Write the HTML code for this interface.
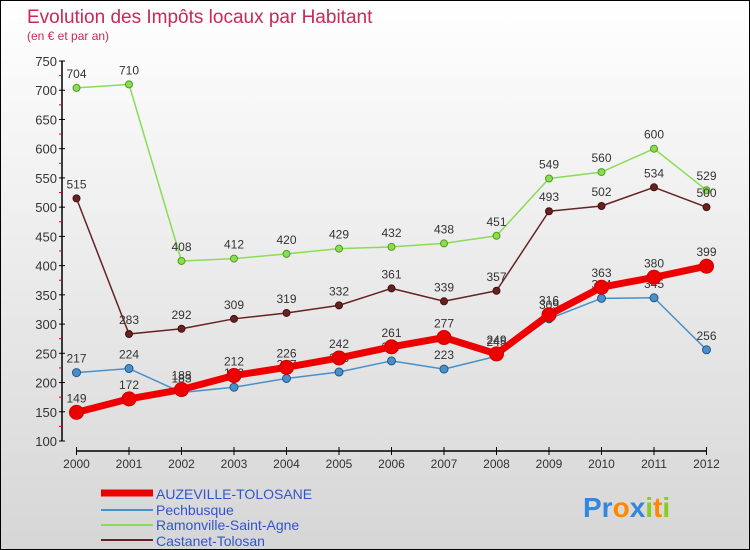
<!DOCTYPE html>
<html><head><meta charset="utf-8"><style>
body{margin:0;}
#c{width:750px;height:550px;position:relative;overflow:hidden;background:linear-gradient(#ffffff,#d6d6d6);border:1px solid #000;box-sizing:border-box;font-family:"Liberation Sans",sans-serif;}
</style></head><body>
<div id="c">
<svg id="s" width="750" height="550" style="position:absolute;left:0;top:0">
<text x="26" y="22" font-size="19" fill="#c8285a">Evolution des Impôts locaux par Habitant</text>
<text x="26" y="39" font-size="12" fill="#c8285a">(en € et par an)</text>
<g id="axes"></g><g id="series"></g>
<g>
<line x1="100" y1="492" x2="152" y2="492" stroke="#ee0000" stroke-width="7"/>
<text x="155" y="498" font-size="14" fill="#3355cc">AUZEVILLE-TOLOSANE</text>
<line x1="100" y1="509" x2="152" y2="509" stroke="#4a90c8" stroke-width="2"/>
<text x="155" y="514" font-size="14" fill="#3355cc">Pechbusque</text>
<line x1="100" y1="524" x2="152" y2="524" stroke="#88dd55" stroke-width="2"/>
<text x="155" y="529" font-size="14" fill="#3355cc">Ramonville-Saint-Agne</text>
<line x1="100" y1="539" x2="152" y2="539" stroke="#662222" stroke-width="2"/>
<text x="155" y="545" font-size="14" fill="#3355cc">Castanet-Tolosan</text>
</g>
<text x="582" y="516" font-size="28" font-weight="bold"><tspan fill="#3388dd">Pr</tspan><tspan fill="#ff8800">o</tspan><tspan fill="#3388dd">x</tspan><tspan fill="#88cc22">i</tspan><tspan fill="#ff8800">t</tspan><tspan fill="#88cc22">i</tspan></text>
</svg>
</div>
<script>
const years=["2000","2001","2002","2003","2004","2005","2006","2007","2008","2009","2010","2011","2012"];
const yTicks=[100,150,200,250,300,350,400,450,500,550,600,650,700,750];
const auzeville=[149,172,188,212,226,242,261,277,249,316,363,380,399];
const pechbusque=[217,224,183,192,207,218,237,223,245,309,344,345,256];
const ramonville=[704,710,408,412,420,429,432,438,451,549,560,600,529];
const castanet=[515,283,292,309,319,332,361,339,357,493,502,534,500];
const NS="http://www.w3.org/2000/svg";
function X(i){return 75.5+i*52.5;}
function Y(v){return 440-(v-100)*380/650;}
function el(t,a,p){const e=document.createElementNS(NS,t);for(const k in a)e.setAttribute(k,a[k]);p.appendChild(e);return e;}
const ax=document.getElementById('axes'),sg=document.getElementById('series');
const ya=el('line',{x1:61,y1:Y(750),x2:61,y2:Y(100),stroke:'#000','stroke-width':1.5},ax);


yTicks.forEach(v=>{
 el('line',{x1:58,y1:Y(v),x2:64,y2:Y(v),stroke:'#000'},ax);
 if(v<750) el('line',{x1:58,y1:Y(v+25),x2:61,y2:Y(v+25),stroke:'#e00'},ax);
 const t=el('text',{x:56,y:Y(v)+5,'font-size':13,'text-anchor':'end',fill:'#333'},ax);t.textContent=v;
 
 
});
const xa=el('line',{x1:X(0),y1:450,x2:X(12),y2:450,stroke:'#000','stroke-width':1.5},ax);


years.forEach((y,i)=>{
 el('line',{x1:X(i),y1:446,x2:X(i),y2:454,stroke:'#000'},ax);
 const t=el('text',{x:X(i),y:467,'font-size':12,'text-anchor':'middle',fill:'#333'},ax);t.textContent=y;
 
 
});
function series(d,name,color,w,r,dark){
 const g=el('g',{},sg);
 
 
 const p=el('polyline',{points:d.map((v,i)=>X(i)+','+Y(v)).join(' '),fill:'none',stroke:color,'stroke-width':w,'stroke-linejoin':'round'},g);
 
 
 d.forEach((v,i)=>{
  const c=el('circle',{cx:X(i),cy:Y(v),r:r,fill:color,stroke:dark,'stroke-width':1},g);
  
  
  const t=el('text',{x:X(i),y:Y(v)-10,'font-size':12,'text-anchor':'middle',fill:'#333'},g);t.textContent=v;
  
  
 });
}
series(ramonville,'ramonville','#88dd55',1.5,3.5,'#559922');
series(castanet,'castanet','#662222',1.5,3.5,'#441111');
series(pechbusque,'pechbusque','#4a90c8',1.5,4,'#225588');
series(auzeville,'auzeville','#ee0000',7,7,'#cc0000');
</script>
</body></html>
